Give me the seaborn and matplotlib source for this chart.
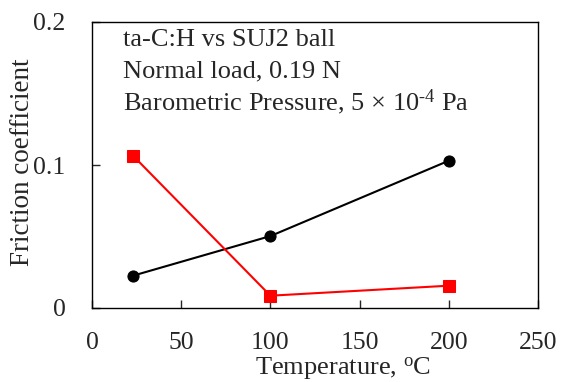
import matplotlib
matplotlib.use("Agg")
import matplotlib.pyplot as plt
import seaborn as sns
import pandas as pd

temps = [23, 100, 200]
friction_black = [0.0226, 0.0503, 0.103]
friction_red = [0.1065, 0.0086, 0.0156]
xticks = [0, 50, 100, 150, 200, 250]
yticks = [0, 0.1, 0.2]
ytick_labels = ["0", "0.1", "0.2"]
annot_lines = ["ta-C:H vs SUJ2 ball", "Normal load, 0.19 N",
               r"Barometric Pressure, 5 × 10$^{\text{-4}}$ Pa"]

sns.set_style("ticks")
plt.rcParams["font.family"] = ["Liberation Serif", "DejaVu Serif"]
plt.rcParams["mathtext.fontset"] = "custom"
plt.rcParams["mathtext.rm"] = "Liberation Serif"
plt.rcParams["mathtext.it"] = "Liberation Serif:italic"
plt.rcParams["mathtext.bf"] = "Liberation Serif:bold"

FS = 19
fig = plt.figure(figsize=(5.61, 3.82), dpi=100)
ax = fig.add_axes([92/561, 1 - 308/382, (538-92)/561, (308-22)/382])

df_b = pd.DataFrame({"T": temps, "mu": friction_black})
df_r = pd.DataFrame({"T": temps, "mu": friction_red})
sns.lineplot(data=df_b, x="T", y="mu", ax=ax, color="black", marker="o",
             markersize=8, markeredgecolor="black", linewidth=1.5)
sns.lineplot(data=df_r, x="T", y="mu", ax=ax, color="#ff0000", marker="s",
             markersize=8.5, markeredgecolor="#ff0000", linewidth=1.5)

ax.set_xlim(0, 250)
ax.set_ylim(0, 0.2)
ax.set_xticks(xticks)
ax.set_yticks(yticks)
ax.set_yticklabels(ytick_labels)
ax.tick_params(direction="in", length=6, width=1, labelsize=FS - 0.5)
ax.tick_params(axis="x", pad=17)
ax.tick_params(axis="y", pad=19)
for s in ax.spines.values():
    s.set_linewidth(1.0)
    s.set_color("black")
ax.set_xlabel(r"Temperature, $^{\mathrm{o}}$C", fontsize=FS)
ax.set_ylabel("Friction coefficient", fontsize=FS + 0.5)
ax.xaxis.set_label_coords(0.563, -0.164)
ax.yaxis.set_label_coords(-0.128, 0.51)

ys = [0.1832, 0.1615, 0.1385]
for t, y in zip(annot_lines, ys):
    ax.text(17.4, y, t, fontsize=FS, va="baseline", ha="left")

fig.savefig("out.png", dpi=100)
